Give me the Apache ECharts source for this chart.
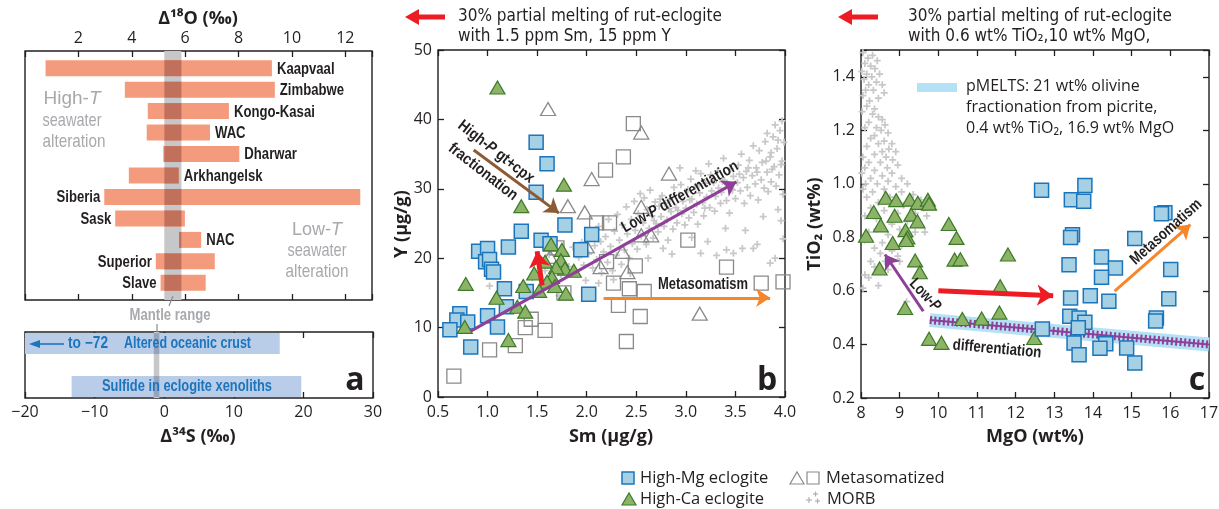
<!DOCTYPE html>
<html><head><meta charset="utf-8">
<script src="https://cdn.jsdelivr.net/npm/echarts@6/dist/echarts.min.js"></script>
<style>html,body{margin:0;padding:0;background:#fff}#c{width:1219px;height:509px}</style>
</head><body><div id="c"></div><script>
// ---------------- DATA ----------------
// Panel a (top): delta18O ranges of eclogite suites
const cratons = ['Kaapvaal','Zimbabwe','Kongo-Kasai','WAC','Dharwar','Arkhangelsk','Siberia','Sask','NAC','Superior','Slave'];
const d18O_min = [0.77,3.74,4.60,4.56,5.18,3.89,2.97,3.38,5.77,4.90,5.08];
const d18O_max = [9.25,9.36,7.64,6.93,8.03,5.76,12.56,5.99,6.60,7.11,6.77];
const mantleD18O = [5.22,5.86];
// Panel a (bottom): delta34S
const sulfurGroups = ['Altered oceanic crust','Sulfide in eclogite xenoliths'];
const d34S_min = [-72,-13.3];
const d34S_max = [16.6,19.7];
const mantleD34S = [-1.5,-0.7];

// Panel b: Sm (ug/g) vs Y (ug/g)
const bHighMg = [[1.49,36.7],[1.60,33.6],[1.49,29.5],[1.78,24.8],[1.34,23.9],[2.05,23.4],[1.54,22.6],[1.63,22.1],[1.21,21.6],[0.91,21.0],[1.00,21.4],[1.94,21.2],[0.98,19.5],[1.02,19.8],[1.04,18.4],[1.06,18.0],[1.17,15.6],[1.39,15.2],[2.02,14.8],[1.19,13.0],[1.00,11.7],[0.72,12.0],[0.69,11.1],[0.80,10.8],[1.10,10.1],[0.62,9.7],[0.83,7.2]];
const bHighCa = [[1.10,44.6],[1.77,30.6],[1.34,27.5],[1.64,22.0],[1.75,21.2],[1.74,19.7],[1.78,18.5],[1.87,18.2],[1.69,18.7],[1.47,17.8],[1.65,17.3],[1.60,16.6],[1.36,16.0],[1.52,15.3],[1.79,14.9],[0.78,16.3],[1.09,14.3],[1.30,13.0],[1.38,12.3],[0.77,10.1],[1.21,8.2],[1.58,19.5],[1.68,16.0]];
const bMetaTri = [[1.61,41.5],[2.55,38.1],[2.05,31.4],[2.83,32.2],[1.81,27.5],[1.98,26.6],[2.55,27.4],[2.00,21.7],[2.36,20.9],[2.41,18.0],[2.14,18.7],[2.65,23.3],[2.55,23.3],[3.14,12.0],[1.63,20.2]];
const bMetaSq = [[2.47,39.4],[2.37,34.6],[2.19,32.7],[2.10,25.1],[2.23,25.1],[3.02,22.6],[3.41,18.7],[3.76,16.4],[3.98,16.6],[2.49,18.9],[2.27,16.4],[2.43,15.6],[2.58,15.2],[2.32,13.2],[2.54,11.6],[2.40,8.0],[2.20,19.5],[1.38,10.0],[1.44,11.2],[1.58,9.6],[1.28,7.4],[1.02,6.8],[0.66,3.0],[1.77,15.0],[1.70,21.5]];
const bMorb = [[1.02,16.0],[1.38,14.6],[1.45,17.2],[1.52,19.8],[1.58,18.2],[1.62,20.5],[1.66,16.8],[1.70,19.2],[1.74,17.6],[1.78,20.8],[1.82,18.8],[1.86,21.6],[1.88,17.9],[1.92,20.1],[1.95,22.3],[1.97,19.0],[1.99,16.8],[1.55,15.5],[1.72,14.6],
[2.02,20.6],[2.04,23.4],[2.06,18.6],[2.08,21.8],[2.10,19.8],[2.12,24.6],[2.14,22.4],[2.15,17.9],[2.17,20.9],[2.19,23.1],[2.21,19.4],[2.22,25.6],[2.24,21.7],[2.26,18.2],[2.28,23.9],[2.30,20.4],[2.31,26.3],[2.33,22.6],[2.35,19.1],[2.36,24.8],[2.38,21.2],[2.40,27.4],[2.41,23.5],[2.43,20.0],[2.45,25.6],[2.46,22.1],[2.48,28.2],[2.49,24.0],[2.12,16.4],[2.27,16.9],[2.44,17.8],
[2.51,21.3],[2.52,26.4],[2.54,29.3],[2.55,23.2],[2.57,25.1],[2.58,28.7],[2.60,22.0],[2.61,27.0],[2.63,24.3],[2.64,29.8],[2.66,26.1],[2.67,22.9],[2.69,28.1],[2.70,25.0],[2.72,23.8],[2.73,27.5],[2.75,26.0],[2.76,29.0],[2.78,24.6],[2.79,27.9],[2.81,25.5],[2.82,22.6],[2.84,28.6],[2.85,26.7],[2.87,24.2],[2.88,30.2],[2.90,27.3],[2.91,25.1],[2.93,29.1],[2.94,33.0],[2.96,26.4],[2.97,28.2],[2.99,24.8],[2.62,20.0],[2.77,21.4],[2.86,20.6],
[3.00,27.2],[3.02,29.9],[3.03,25.8],[3.05,31.4],[3.06,28.5],[3.08,26.6],[3.09,30.3],[3.11,27.8],[3.12,24.9],[3.14,29.4],[3.15,32.2],[3.17,28.0],[3.18,26.1],[3.20,30.8],[3.21,28.8],[3.23,33.6],[3.24,27.3],[3.26,29.7],[3.27,31.5],[3.29,26.8],[3.30,28.9],[3.32,32.6],[3.33,30.1],[3.35,27.9],[3.36,29.5],[3.38,34.4],[3.39,31.2],[3.41,28.3],[3.42,30.6],[3.44,26.5],[3.45,32.9],[3.47,29.8],[3.48,31.8],[3.15,20.7],[3.31,20.4],[3.41,21.2],[3.48,20.7],[3.40,24.3],[3.06,23.0],[3.22,22.4],
[3.50,28.6],[3.52,30.9],[3.53,33.4],[3.55,29.7],[3.56,35.0],[3.58,31.6],[3.59,27.9],[3.61,32.5],[3.62,30.2],[3.64,34.1],[3.65,29.0],[3.67,31.9],[3.68,36.2],[3.70,30.7],[3.71,33.0],[3.73,28.4],[3.74,35.5],[3.76,31.3],[3.77,33.8],[3.79,30.1],[3.80,36.8],[3.82,32.4],[3.83,29.6],[3.85,34.6],[3.86,31.0],[3.88,37.5],[3.89,33.2],[3.91,30.4],[3.92,35.8],[3.94,32.0],[3.95,38.4],[3.97,34.0],[3.98,29.2],[3.99,36.7],[3.57,21.4],[3.68,21.4],[3.72,22.0],[3.85,19.3],[3.90,20.0],[3.96,25.4],[3.98,22.8],[3.60,24.0],[3.78,26.0],[3.93,27.0],
[3.82,38.0],[3.90,39.2],[3.97,39.8],[3.86,35.2],[3.93,37.0],[2.92,26.9],[3.04,28.4],[3.13,30.5],[3.19,27.2],[3.28,30.9],[3.37,31.0],[3.46,30.0],[3.54,32.1],[3.63,33.0],[3.72,32.4],[3.81,34.0],[3.87,32.8],[3.96,33.5],[2.68,25.4],[2.74,28.5],[2.83,27.1],[2.95,30.6],[3.10,32.6],[3.25,32.0]];

// Panel c: MgO (wt%) vs TiO2 (wt%)
const cHighMg = [[12.67,0.976],[13.44,0.941],[13.79,0.994],[13.76,0.935],[15.86,0.892],[15.77,0.888],[13.47,0.810],[13.42,0.800],[15.08,0.796],[13.38,0.698],[14.22,0.727],[14.58,0.686],[14.22,0.651],[16.01,0.680],[13.42,0.574],[13.93,0.582],[14.41,0.561],[15.96,0.571],[13.40,0.505],[13.64,0.499],[13.79,0.483],[15.64,0.499],[15.62,0.488],[13.62,0.462],[12.69,0.458],[13.51,0.405],[14.33,0.403],[14.18,0.386],[14.87,0.387],[13.64,0.362],[15.08,0.331]];
const cHighCa = [[8.64,0.948],[8.91,0.939],[9.26,0.941],[9.47,0.929],[9.73,0.941],[9.76,0.926],[8.33,0.895],[8.87,0.881],[9.30,0.885],[9.46,0.860],[8.51,0.845],[9.15,0.827],[9.20,0.800],[8.13,0.806],[8.82,0.779],[10.27,0.850],[10.47,0.798],[10.42,0.717],[10.57,0.718],[9.40,0.714],[9.52,0.670],[8.48,0.684],[11.80,0.736],[11.60,0.617],[9.14,0.536],[10.62,0.495],[11.12,0.497],[11.58,0.519],[9.76,0.421],[10.08,0.406],[12.48,0.424],[9.17,0.790]];
const cMorb = [[8.05,1.49],[8.18,1.47],[8.30,1.48],[8.42,1.46],[8.10,1.45],[8.25,1.44],[8.36,1.43],[8.02,1.42],[8.15,1.41],[8.48,1.41],[8.28,1.40],[8.08,1.39],[8.40,1.38],[8.55,1.37],[8.20,1.37],[8.12,1.35],[8.32,1.35],[8.60,1.34],[8.05,1.33],[8.45,1.32],[8.22,1.31],[8.15,1.29],[8.35,1.28],[8.03,1.27],
[8.30,1.26],[8.45,1.25],[8.55,1.24],[8.20,1.23],[8.62,1.22],[8.40,1.21],[8.10,1.21],[8.52,1.20],[8.70,1.19],[8.35,1.18],[8.25,1.17],[8.60,1.16],[8.45,1.15],[8.80,1.15],[8.15,1.14],[8.72,1.13],[8.55,1.12],[8.90,1.12],[8.35,1.11],[8.05,1.10],[8.65,1.10],
[8.82,1.09],[8.20,1.08],[8.50,1.08],[8.95,1.07],[8.10,1.06],[8.68,1.06],[8.35,1.05],[8.02,1.04],[8.80,1.04],[8.55,1.03],[8.25,1.02],[9.05,1.02],[8.70,1.01],[8.12,1.00],[8.42,1.00],[9.20,1.00],[8.90,0.99],
[8.05,0.98],[8.30,0.97],[8.60,0.98],[9.05,0.97],[9.35,0.96],[8.15,0.95],[8.75,0.95],[9.55,0.94],[8.45,0.93],[9.10,0.92],[8.25,0.91],[9.62,0.91],[8.60,0.90],[8.95,0.89],[9.40,0.89],[8.10,0.88],[9.70,0.88],[8.40,0.87],[9.20,0.86],[8.80,0.85],
[8.40,0.83],[9.00,0.83],[9.65,0.82],[8.20,0.82],[9.40,0.82],[8.70,0.81],[9.25,0.80],[8.10,0.79],[8.55,0.78],[9.05,0.77],[8.35,0.76],[8.80,0.75],[8.50,0.74],[8.95,0.73],[8.62,0.71],[8.25,0.71],[9.00,0.71],[8.35,0.69],[8.70,0.68],[8.10,0.66],[8.20,0.65],[8.05,0.61],[9.18,0.56],[8.45,0.62]];
const cPmelts = [[9.78,0.491],[17.0,0.400]];

// Annotation arrows (data coordinates)
const bArrowHighP = [[0.86,35.6],[1.72,26.5]];
const bArrowLowP = [[0.83,9.5],[3.51,31.0]];
const bArrowMelt = [[1.55,16.1],[1.50,21.0]];
const bArrowMeta = [[2.17,14.3],[3.85,14.3]];
const cArrowLowP = [[9.61,0.524],[8.62,0.736]];
const cArrowMelt = [[10.0,0.601],[12.97,0.582]];
const cArrowMeta = [[14.56,0.599],[16.52,0.848]];

// ---------------- STYLE ----------------
const INK = '#231f20';
const F_S = "'Liberation Sans',Arial,sans-serif";      // drawn with scaleX to mimic a condensed face
const F_C = "'DejaVu Sans Condensed','Liberation Sans',sans-serif";
const F_R = "'Open Sans','Liberation Sans',sans-serif";
const NARROW = 0.82;
const GRAY_TXT = '#a7a9ac';
const BLUE_TXT = '#1c75bc';
const LEFT_LABEL = new Set(['Siberia','Sask','Superior','Slave']);
const CROSS = 'path://M3,0H5V3H8V5H5V8H3V5H0V3H3Z';

const mctx = document.createElement('canvas').getContext('2d');
function fitScale(text, size, weight, target){
  mctx.font = (weight||'normal') + ' ' + size + 'px ' + F_S;
  const w = mctx.measureText(text).width;
  return w > 0 ? target / w : NARROW;
}

const chart = echarts.init(document.getElementById('c'), null, {renderer:'canvas'});

function gridBox(left, top, width, height){
  return {left, top, width, height, show:true, borderColor:INK, borderWidth:1.4, backgroundColor:'transparent', containLabel:false, outerBoundsMode:'none'};
}
function valAxis(o){
  const base = {type:'value', axisLine:{show:false,onZero:false}, splitLine:{show:false},
    axisTick:{show:true, inside:true, length:6, lineStyle:{color:INK,width:1.3}},
    axisLabel:{show:true, color:INK, fontSize:16, fontFamily:F_R, margin:6}};
  const r = Object.assign({}, base, o);
  if (o.axisLabel) r.axisLabel = Object.assign({}, base.axisLabel, o.axisLabel);
  if (o.axisTick) r.axisTick = Object.assign({}, base.axisTick, o.axisTick);
  return r;
}
const noLab = {show:false};

const xAxis = [
  valAxis({gridIndex:0, position:'top', min:0, max:13, interval:2, axisLabel:{margin:5, formatter:v=> (v>0 && v<=12 ? String(v) : '')}}),
  valAxis({gridIndex:0, position:'bottom', min:0, max:13, interval:2, axisLabel:noLab}),
  valAxis({gridIndex:1, position:'bottom', min:-20, max:30, interval:10, axisLabel:{margin:6, formatter:v=> (v<0 ? '\u2212'+Math.abs(v) : String(v))}}),
  valAxis({gridIndex:1, position:'top', min:-20, max:30, interval:10, axisLabel:noLab}),
  valAxis({gridIndex:2, position:'bottom', min:0.5, max:4.0, interval:0.5, axisLabel:{margin:7, formatter:v=>v.toFixed(1)}}),
  valAxis({gridIndex:2, position:'top', min:0.5, max:4.0, interval:0.5, axisLabel:noLab}),
  valAxis({gridIndex:3, position:'bottom', min:8, max:17, interval:1, axisLabel:{margin:7}}),
  valAxis({gridIndex:3, position:'top', min:8, max:17, interval:1, axisLabel:noLab})
];
const yAxis = [
  {type:'value', gridIndex:0, min:-0.8, max:10.8, inverse:true, show:false},
  {type:'value', gridIndex:1, min:-0.27, max:1.27, inverse:true, show:false},
  valAxis({gridIndex:2, position:'left', min:0, max:50, interval:10, axisLabel:{margin:6}}),
  valAxis({gridIndex:2, position:'right', min:0, max:50, interval:10, axisLabel:noLab}),
  valAxis({gridIndex:3, position:'left', min:0.2, max:1.5, interval:0.2, axisLabel:{margin:6, formatter:v=>{const r=Math.round(v*10); return (r%2===0 && r<=14) ? (r/10).toFixed(1) : '';}}}),
  valAxis({gridIndex:3, position:'right', min:0.2, max:1.5, interval:0.2, axisLabel:noLab})
];

// ---- custom renderers ----
function overlapRect(api, lo, hi, band, yc, h, fill){
  const ol = Math.max(lo, band[0]), oh = Math.min(hi, band[1]);
  if (oh <= ol) return null;
  const a = api.coord([ol, yc]), b = api.coord([oh, yc]);
  return {type:'rect', shape:{x:a[0], y:a[1]-h/2, width:b[0]-a[0], height:h}, style:{fill}};
}
function renderBars(params, api){
  const lo = api.value(0), hi = api.value(1), row = api.value(2);
  const a = api.coord([lo,row]), b = api.coord([hi,row]);
  const h = 16, name = cratons[params.dataIndex];
  const left = LEFT_LABEL.has(name);
  const kids = [{type:'rect', shape:{x:a[0], y:a[1]-h/2, width:b[0]-a[0], height:h}, style:{fill:'#f59b7d'}}];
  const ov = overlapRect(api, lo, hi, mantleD18O, row, h, '#c1715b');
  if (ov) kids.push(ov);
  kids.push({type:'text', x: left ? a[0]-4 : b[0]+5, y:a[1]+1, scaleX:NARROW,
    style:{text:name, x:0, y:0, align: left?'right':'left', verticalAlign:'middle', fill:INK, fontSize:16, fontWeight:'bold', fontFamily:F_S}});
  return {type:'group', children:kids};
}
function renderBand(params, api){
  const a = api.coord([api.value(0),0]), b = api.coord([api.value(1),0]);
  const cs = params.coordSys;
  return {type:'rect', shape:{x:a[0], y:cs.y, width:b[0]-a[0], height:cs.height}, style:{fill:'#c6c7c9'}};
}
function renderSBands(params, api){
  const lo = api.value(0), hi = api.value(1), row = api.value(2);
  const a = api.coord([lo,row]), b = api.coord([hi,row]);
  const cs = params.coordSys, h = 21;
  const r = echarts.graphic.clipRectByRect({x:a[0], y:a[1]-h/2, width:b[0]-a[0], height:h}, {x:cs.x, y:cs.y, width:cs.width, height:cs.height});
  if (!r) return null;
  const kids = [{type:'rect', shape:r, style:{fill:'#b9cde9'}}];
  const ov = overlapRect(api, lo, hi, mantleD34S, row, h, '#97a3bb');
  if (ov) kids.push(ov);
  return {type:'group', children:kids};
}

function arrow(xi, yi, coords, color, width, size, z){
  return {type:'lines', coordinateSystem:'cartesian2d', xAxisIndex:xi, yAxisIndex:yi, polyline:false, silent:true, z:z||6,
    symbol:['none','arrow'], symbolSize:size, lineStyle:{color, width, opacity:1, curveness:0},
    data:[{coords}]};
}
function scat(xi, yi, data, symbol, size, fill, stroke, bw, z){
  return {type:'scatter', xAxisIndex:xi, yAxisIndex:yi, data, symbol, symbolSize:size, z:z, silent:true,
    itemStyle:{color:fill, borderColor:stroke, borderWidth:bw, opacity:1}};
}

const SQ = [14,14], TRI = [15,13];
const series = [
  {type:'custom', xAxisIndex:0, yAxisIndex:0, renderItem:renderBand, z:1, silent:true, data:[mantleD18O]},
  {type:'custom', xAxisIndex:0, yAxisIndex:0, renderItem:renderBars, z:2, silent:true,
    data: cratons.map((n,i)=>[d18O_min[i], d18O_max[i], i])},
  {type:'custom', xAxisIndex:2, yAxisIndex:1, renderItem:renderBand, z:1, silent:true, data:[mantleD34S]},
  {type:'custom', xAxisIndex:2, yAxisIndex:1, renderItem:renderSBands, z:2, silent:true,
    data: sulfurGroups.map((n,i)=>[d34S_min[i], d34S_max[i], i])},
  // panel b
  scat(4,2,bMorb,CROSS,7,'#c8c8c8','#c8c8c8',0,2),
  scat(4,2,bMetaSq,'rect',SQ,'rgba(255,255,255,0)','#8a8a8a',1.3,3),
  scat(4,2,bMetaTri,'triangle',TRI,'rgba(255,255,255,0)','#8a8a8a',1.3,3),
  scat(4,2,bHighMg,'rect',SQ,'#a6d0e4','#1b75bb',1.5,4),
  scat(4,2,bHighCa,'triangle',TRI,'#8db466','#3e7a2a',1.2,4),
  arrow(4,2,bArrowHighP,'#8c5b34',3,[12,14]),
  arrow(4,2,bArrowLowP,'#8e3f97',3,[12,14]),
  arrow(4,2,bArrowMelt,'#ed1c24',5,[16,16]),
  arrow(4,2,bArrowMeta,'#f7862a',3,[12,14]),
  // panel c
  scat(6,4,cMorb,CROSS,7,'#c8c8c8','#c8c8c8',0,2),
  {type:'line', xAxisIndex:6, yAxisIndex:4, data:cPmelts, showSymbol:false, silent:true, z:2,
    lineStyle:{color:'#b5e1f6', width:14, cap:'butt'}},
  {type:'line', xAxisIndex:6, yAxisIndex:4, data:cPmelts, showSymbol:false, silent:true, z:3,
    lineStyle:{color:'#8e3f97', width:2}},
  {type:'line', xAxisIndex:6, yAxisIndex:4, data:cPmelts, showSymbol:false, silent:true, z:3,
    lineStyle:{color:'#8e3f97', width:8, type:[2,2.4], cap:'butt'}},
  scat(6,4,cHighCa,'triangle',TRI,'#8db466','#3e7a2a',1.2,4),
  scat(6,4,cHighMg,'rect',SQ,'#a6d0e4','#1b75bb',1.5,4),
  arrow(6,4,cArrowLowP,'#8e3f97',3,[12,14]),
  arrow(6,4,cArrowMelt,'#ed1c24',5,[16,16]),
  arrow(6,4,cArrowMeta,'#f7862a',3,[12,14])
];

// ---- graphic texts ----
// narrow text: Liberation Sans compressed horizontally (optionally fitted to a target width)
function N(x, y, text, o){
  o = o || {};
  const size = o.size||16, weight = o.weight||'normal';
  const sx = o.w ? fitScale(o.plain||text, size, weight, o.w) : NARROW;
  const fill = o.fill||INK;
  return {type:'text', x, y, rotation:o.rot||0, scaleX:sx, scaleY:1, silent:true, z:100,
    style:Object.assign({text, fill, fontSize:size, fontWeight:weight, fontFamily:F_S,
      align:o.align||'center', verticalAlign:'middle'}, o.rich ? {rich:o.rich} : {})};
}
function T(x, y, text, o){
  o = o || {};
  return {type:'text', x, y, rotation:o.rot||0, silent:true, z:100,
    style:{text, fill:o.fill||INK, fontSize:o.size||16, fontWeight:o.weight||'normal', fontFamily:o.family||F_R,
      align:o.align||'center', verticalAlign:'middle'}};
}
function italicRich(size, weight, fill){
  return {a:{fontSize:size, fontWeight:weight, fontFamily:F_S, fill:fill},
          i:{fontSize:size, fontWeight:weight, fontFamily:F_S, fontStyle:'italic', fill:fill}};
}
function redArrow(x0, x1, y){
  return [
    {type:'line', silent:true, shape:{x1:x1, y1:y, x2:x0+12, y2:y}, style:{stroke:'#ed1c24', lineWidth:5}},
    {type:'polygon', silent:true, shape:{points:[[x0,y],[x0+14,y-8],[x0+14,y+8]]}, style:{fill:'#ed1c24'}}
  ];
}
function L(x1,y1,x2,y2,color,w){
  return {type:'line', silent:true, z:100, shape:{x1,y1,x2,y2}, style:{stroke:color, lineWidth:w}};
}
const graphics = [
  T(198,19,'\u0394\u00b9\u2078O (\u2030)',{size:18, weight:'bold'}),
  T(198,437,'\u0394\u00b3\u2074S (\u2030)',{size:18, weight:'bold'}),
  N(72,99,'{a|High-}{i|T}',{rich:italicRich(19,'normal',GRAY_TXT), fill:GRAY_TXT, size:19, plain:'High-T', w:57}),
  N(72,121,'seawater',{size:19, fill:GRAY_TXT, w:59}),
  N(74,142,'alteration',{size:19, fill:GRAY_TXT, w:63}),
  N(317,230,'{a|Low-}{i|T}',{rich:italicRich(19,'normal',GRAY_TXT), fill:GRAY_TXT, size:19, plain:'Low-T', w:50}),
  N(317,251,'seawater',{size:19, fill:GRAY_TXT, w:59}),
  N(317,272,'alteration',{size:19, fill:GRAY_TXT, w:63}),
  N(170,316,'Mantle range',{size:16, weight:'bold', fill:GRAY_TXT, w:81}),
  L(173,296,169,306,'#8a8c8e',1.2),
  L(157,324,157,332,'#8a8c8e',1.2),
  L(38,344,64,344,BLUE_TXT,1.6),
  {type:'polygon', silent:true, z:100, shape:{points:[[29,344],[40,340],[40,348]]}, style:{fill:BLUE_TXT}},
  N(68,344,'to \u221272',{size:16, weight:'bold', fill:BLUE_TXT, align:'left', w:40}),
  N(124,344,'Altered oceanic crust',{size:16, weight:'bold', fill:BLUE_TXT, align:'left', w:127}),
  N(187,387,'Sulfide in eclogite xenoliths',{size:16, weight:'bold', fill:BLUE_TXT, w:170}),
  T(355,381,'a',{size:32, weight:'bold'}),
  T(767,381,'b',{size:32, weight:'bold'}),
  T(1197,381,'c',{size:32, weight:'bold'}),
  T(402,224,'Y (\u03bcg/g)',{size:18, weight:'bold', rot:Math.PI/2}),
  T(611,437,'Sm (\u03bcg/g)',{size:18, weight:'bold'}),
  T(815,224,'TiO\u2082 (wt%)',{size:18, weight:'bold', rot:Math.PI/2}),
  T(1035,437,'MgO (wt%)',{size:18, weight:'bold'}),
  // panel b annotations
  N(496,152,'{a|High-}{i|P}{a| gt+cpx}',{rich:italicRich(16,'bold',INK), size:16, weight:'bold', plain:'High-P gt+cpx', w:92, rot:-0.66}),
  N(483,172,'fractionation',{size:16, weight:'bold', w:83, rot:-0.66}),
  N(680,197,'{a|Low-}{i|P}{a| differentiation}',{rich:italicRich(16,'bold',INK), size:16, weight:'bold', plain:'Low-P differentiation', w:131, rot:0.51}),
  N(703,285,'Metasomatism',{size:16, weight:'bold', w:90}),
  // panel c annotations
  N(925,295,'{a|Low-}{i|P}',{rich:italicRich(16,'bold',INK), size:16, weight:'bold', plain:'Low-P', w:38, rot:-0.81}),
  N(997,349,'differentiation',{size:16, weight:'bold', w:89, rot:-0.09}),
  N(1166,232,'Metasomatism',{size:16, weight:'bold', w:90, rot:0.73}),
  {type:'rect', silent:true, shape:{x:917,y:83,width:40,height:9}, style:{fill:'#b5e1f6'}},
  T(966,86,'pMELTS: 21 wt% olivine',{size:16, align:'left'}),
  T(966,107,'fractionation from picrite,',{size:16, align:'left'}),
  T(966,128,'0.4 wt% TiO\u2082, 16.9 wt% MgO',{size:16, align:'left'}),
  // top notes
  ...redArrow(405,445,17),
  T(458,17,'30% partial melting of rut-eclogite',{size:17, align:'left', family:F_C}),
  T(458,37,'with 1.5 ppm Sm, 15 ppm Y',{size:17, align:'left', family:F_C}),
  ...redArrow(838,878,17),
  T(908,17,'30% partial melting of rut-eclogite',{size:17, align:'left', family:F_C}),
  T(908,37,'with 0.6 wt% TiO\u2082,10 wt% MgO,',{size:17, align:'left', family:F_C}),
  // legend
  {type:'rect', silent:true, shape:{x:622,y:472,width:12,height:12}, style:{fill:'#a6d0e4', stroke:'#1b75bb', lineWidth:1.5}},
  T(640,478,'High-Mg eclogite',{size:16.5, align:'left'}),
  {type:'polygon', silent:true, shape:{points:[[790,484],[804,484],[797,472]]}, style:{fill:'none', stroke:'#8a8a8a', lineWidth:1.2}},
  {type:'rect', silent:true, shape:{x:807,y:472,width:12,height:12}, style:{fill:'none', stroke:'#8a8a8a', lineWidth:1.2}},
  T(826,478,'Metasomatized',{size:16.5, align:'left'}),
  {type:'polygon', silent:true, shape:{points:[[622,505],[636,505],[629,493]]}, style:{fill:'#8db466', stroke:'#3e7a2a', lineWidth:1.2}},
  T(640,499,'High-Ca eclogite',{size:16.5, align:'left'}),
  L(806,500,812,500,'#b0b0b0',1.2), L(809,497,809,503,'#b0b0b0',1.2),
  L(813,494,818,494,'#b0b0b0',1.2), L(815.5,491.5,815.5,496.5,'#b0b0b0',1.2),
  L(815,501,820,501,'#b0b0b0',1.2), L(817.5,498.5,817.5,503.5,'#b0b0b0',1.2),
  T(827,499,'MORB',{size:16.5, align:'left'})
];

chart.setOption({
  animation:false,
  backgroundColor:'#ffffff',
  grid:[gridBox(25,51,347,249), gridBox(25,332,348,66), gridBox(438,50,347,347), gridBox(861,50,348,348)],
  xAxis, yAxis, series,
  graphic:graphics
});
</script></body></html>
